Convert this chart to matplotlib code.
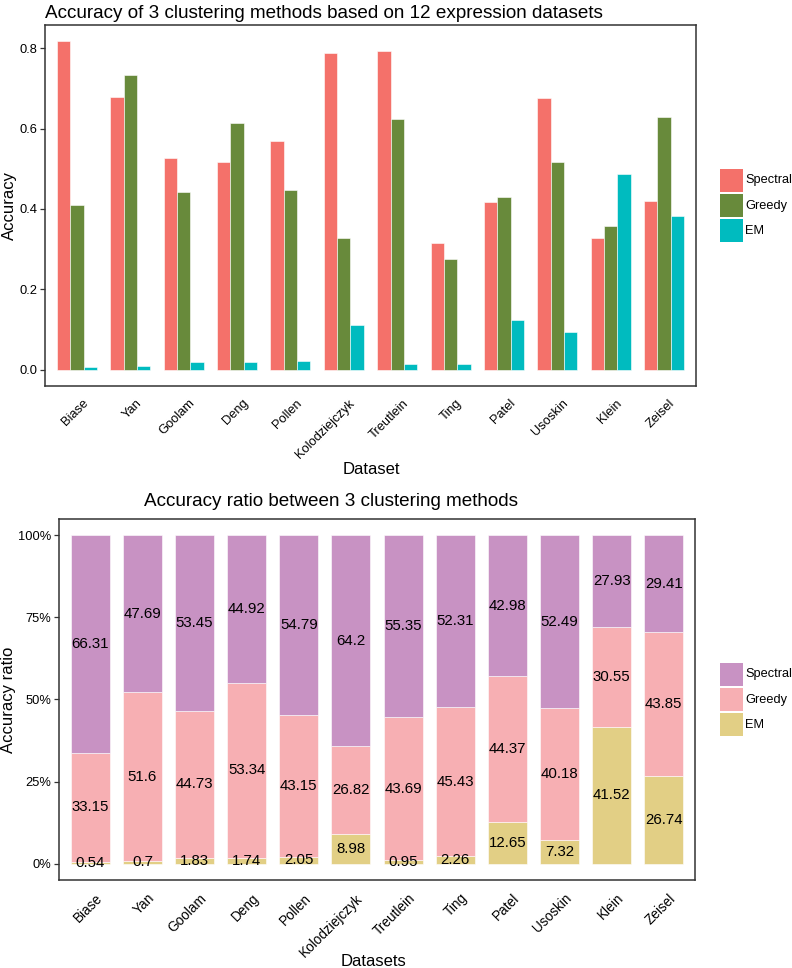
import matplotlib
matplotlib.use("Agg")
import matplotlib.pyplot as plt
from matplotlib.patches import Rectangle
import matplotlib.transforms as mtransforms
import numpy as np

plt.rcParams['font.family'] = ['Liberation Sans', 'DejaVu Sans']

datasets = ["Biase", "Yan", "Goolam", "Deng", "Pollen", "Kolodziejczyk",
            "Treutlein", "Ting", "Patel", "Usoskin", "Klein", "Zeisel"]
methods = ["Spectral", "Greedy", "EM"]

spectral_acc = [0.817, 0.678, 0.526, 0.516, 0.569, 0.789, 0.792, 0.316, 0.417, 0.675, 0.327, 0.420]
greedy_acc   = [0.409, 0.733, 0.441, 0.614, 0.448, 0.328, 0.624, 0.275, 0.430, 0.517, 0.357, 0.628]
em_acc       = [0.007, 0.010, 0.018, 0.020, 0.0216, 0.110, 0.0136, 0.0137, 0.123, 0.094, 0.486, 0.383]

spectral_pct = [66.31, 47.69, 53.45, 44.92, 54.79, 64.2, 55.35, 52.31, 42.98, 52.49, 27.93, 29.41]
greedy_pct   = [33.15, 51.6, 44.73, 53.34, 43.15, 26.82, 43.69, 45.43, 44.37, 40.18, 30.55, 43.85]
em_pct       = [0.54, 0.7, 1.83, 1.74, 2.05, 8.98, 0.95, 2.26, 12.65, 7.32, 41.52, 26.74]

top_colors = {"Spectral": "#F4716A", "Greedy": "#688A3B", "EM": "#00BBBF"}
bot_colors = {"Spectral": "#C892C3", "Greedy": "#F7AFB3", "EM": "#E2CF85"}

W, H = 792, 968
fig = plt.figure(figsize=(W / 100, H / 100), dpi=100)

def fx(px):
    return px / W

def fy(py):
    return 1 - py / H

def px_axes(l, t, r, b):
    return fig.add_axes([l / W, 1 - b / H, (r - l) / W, (b - t) / H])

def style(ax, xls, yls):
    for s in ax.spines.values():
        s.set_color("#333333")
        s.set_linewidth(1.1)
    ax.tick_params(axis="y", colors="#333333", length=3.5, width=0.9,
                   labelsize=yls, labelcolor="black", pad=2)
    ax.tick_params(axis="x", length=0, labelsize=xls, labelcolor="black", pad=8)
    off = mtransforms.ScaledTranslation(5 / 100, 0, fig.dpi_scale_trans)
    for lab in ax.get_xticklabels():
        lab.set_transform(lab.get_transform() + off)

def manual_legend(colors, top_px):
    for i, m in enumerate(methods):
        y0 = top_px + i * 25
        fig.patches.append(Rectangle((fx(720), fy(y0 + 23)), 23 / W, 23 / H,
                                     transform=fig.transFigure, facecolor=colors[m],
                                     edgecolor="none"))
        fig.text(fx(745), fy(y0 + 11.5), m, fontsize=9.2, ha="left", va="center")

x = np.arange(1, len(datasets) + 1)

# ---------- Top panel ----------
ax1 = px_axes(45, 25, 696, 386)
bw = 0.25
series_top = [spectral_acc, greedy_acc, em_acc]
for i, (m, vals) in enumerate(zip(methods, series_top)):
    ax1.bar(x + (i - 1) * bw, vals, width=bw, color=top_colors[m],
            edgecolor="white", linewidth=0.4, label=m)
ax1.set_xlim(0.4, 12.6)
ymax = max(max(spectral_acc), max(greedy_acc), max(em_acc))
ax1.set_ylim(-0.05 * ymax, 1.05 * ymax)
ax1.set_yticks([0.0, 0.2, 0.4, 0.6, 0.8])
ax1.set_yticklabels(["0.0", "0.2", "0.4", "0.6", "0.8"])
ax1.set_xticks(x)
ax1.set_xticklabels(datasets, rotation=45, ha="right", rotation_mode="anchor")
style(ax1, 9.3, 9.3)
fig.text(fx(371), fy(469), "Dataset", fontsize=12, ha="center", va="center")
fig.text(fx(9), fy(205), "Accuracy", fontsize=12, ha="center", va="center", rotation=90)
fig.text(fx(45), fy(13), "Accuracy of 3 clustering methods based on 12 expression datasets",
         fontsize=13.6, ha="left", va="center")
manual_legend(top_colors, 169)

# ---------- Bottom panel ----------
ax2 = px_axes(59, 519, 695, 880)
bw2 = 0.75
em = np.array(em_pct)
gr = np.array(greedy_pct)
sp = np.array(spectral_pct)
tot = em + gr + sp
em_f, gr_f, sp_f = em / tot, gr / tot, sp / tot
ax2.bar(x, em_f, width=bw2, color=bot_colors["EM"], edgecolor="white", linewidth=0.4)
ax2.bar(x, gr_f, width=bw2, bottom=em_f, color=bot_colors["Greedy"], edgecolor="white", linewidth=0.4)
ax2.bar(x, sp_f, width=bw2, bottom=em_f + gr_f, color=bot_colors["Spectral"], edgecolor="white", linewidth=0.4)
for xi, e, g, s, ev, gv, sv in zip(x, em_f, gr_f, sp_f, em_pct, greedy_pct, spectral_pct):
    ax2.text(xi, e / 2, f"{ev:g}", ha="center", va="center", fontsize=10.8)
    ax2.text(xi, e + g / 2, f"{gv:g}", ha="center", va="center", fontsize=10.8)
    ax2.text(xi, e + g + s / 2, f"{sv:g}", ha="center", va="center", fontsize=10.8)
ax2.set_xlim(0.4, 12.6)
ax2.set_ylim(-0.05, 1.05)
ax2.set_yticks([0, 0.25, 0.5, 0.75, 1.0])
ax2.set_yticklabels(["0%", "25%", "50%", "75%", "100%"])
ax2.set_xticks(x)
ax2.set_xticklabels(datasets, rotation=45, ha="right", rotation_mode="anchor")
style(ax2, 9.8, 9.3)
fig.text(fx(374), fy(961), "Datasets", fontsize=12, ha="center", va="center")
fig.text(fx(9), fy(700), "Accuracy ratio", fontsize=12, ha="center", va="center", rotation=90)
fig.text(fx(331), fy(501), "Accuracy ratio between 3 clustering methods",
         fontsize=13.6, ha="center", va="center")
manual_legend(bot_colors, 663)

fig.savefig("out.png", dpi=100)
